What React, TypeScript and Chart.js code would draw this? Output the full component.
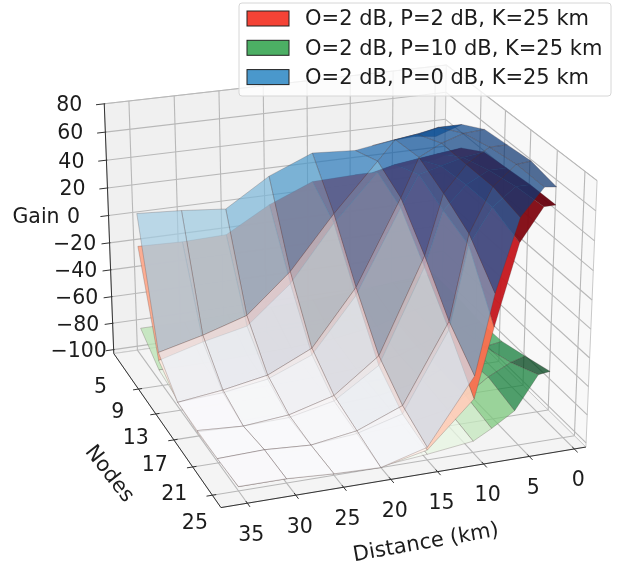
import React, { useEffect, useRef } from "react";
import { Chart, registerables } from "chart.js";

Chart.register(...registerables);

const distances = [1, 3, 5.5, 8, 10, 15, 20, 25, 30, 35];
const rimDistances = [0.5, 0.3, 0.6, 1, 1.4, 1.7];
const nodes = [0, 4.2, 8.4, 12.6, 16.8, 21];
const distanceTicks = [0, 5, 10, 15, 20, 25, 30, 35];
const nodeTickLabels = [5, 9, 13, 17, 21, 25];
const gainTicks = [-100, -80, -60, -40, -20, 0, 20, 40, 60, 80];

const gainP2 = [
  [15, 14, 12, 11, 11, 10, -3, -21, -22, -21],
  [38, 36, 34, 32, 28, -5, -45, -72, -79, -88],
  [50, 48, 44, 40, 18, -41, -80, -93, -98, -100],
  [54, 54, 46, 30, -8, -74, -95, -102, -103, -102],
  [58, 58, 46, 22, -35, -90, -99, -102, -100, -101],
  [60, 60, 38, -17, -65, -96, -103, -102, -100, -100],
];
const gainP10 = [
  [-72, -73, -74, -76, -77, -79, -80, -81, -82, -82],
  [-74, -75, -78, -82, -86, -91, -93, -94, -95, -95],
  [-74, -76, -80, -85, -90, -95, -97, -98, -98, -98],
  [-70, -72, -76, -84, -90, -96, -98, -98, -99, -99],
  [-62, -65, -73, -84, -92, -98, -100, -100, -100, -100],
  [-54, -55, -78, -88, -95, -99, -102, -101, -100, -100],
];
const gainP0 = [
  [32, 34, 33, 31, 29, 31, 18, -2, 1, 3],
  [55, 55, 52, 50, 36, 2, -36, -64, -74, -82],
  [66, 65, 60, 52, 25, -35, -75, -90, -96, -100],
  [70, 70, 60, 42, 0, -67, -91, -100, -103, -101],
  [74, 73, 60, 30, -29, -84, -97, -102, -100, -101],
  [72, 73, 55, 6, -49, -94, -103, -102, -100, -100],
];

const legendLabels = ["O=2 dB, P=2 dB, K=25 km", "O=2 dB, P=10 dB, K=25 km", "O=2 dB, P=0 dB, K=25 km"];
const legendColors = ["#f44336", "#4caf64", "#4a98cc"];

const REDS = ["#fff5f0", "#fee0d2", "#fcbba1", "#fc9272", "#fb6a4a", "#ef3b2c", "#cb181d", "#a50f15", "#67000d"];
const GREENS = ["#f7fcf5", "#e5f5e0", "#c7e9c0", "#a1d99b", "#74c476", "#41ab5d", "#238b45", "#006d2c", "#00441b"];
const BLUES = ["#f7fbff", "#deebf7", "#c6dbef", "#9ecae1", "#6baed6", "#4292c6", "#2171b5", "#08519c", "#08306b"];

const D_MIN = -1.3, D_MAX = 37.7, N_MIN = -1, N_MAX = 22.7, Z_MIN = -103, Z_MAX = 80;
const ELEV = (23 * Math.PI) / 180, AZIM = (70 * Math.PI) / 180, CAM = 8;
const BX = 1.143, BY = 1.143, BZ = 0.875;
const nv = [Math.cos(ELEV) * Math.cos(AZIM), Math.cos(ELEV) * Math.sin(AZIM), Math.sin(ELEV)];
const uv = [-Math.sin(AZIM), Math.cos(AZIM), 0];
const vv = [-Math.sin(ELEV) * Math.cos(AZIM), -Math.sin(ELEV) * Math.sin(AZIM), Math.cos(ELEV)];
const dot = (a: number[], b: number[]) => a[0] * b[0] + a[1] * b[1] + a[2] * b[2];
const world = (d: number, n: number, z: number) => [
  ((d - D_MIN) / (D_MAX - D_MIN) - 0.5) * BX,
  ((n - N_MIN) / (N_MAX - N_MIN) - 0.5) * BY,
  ((z - Z_MIN) / (Z_MAX - Z_MIN) - 0.5) * BZ,
];
const project = (d: number, n: number, z: number) => {
  const q = world(d, n, z);
  const w = CAM - dot(q, nv);
  return { x: dot(q, uv) / w, y: dot(q, vv) / w };
};
const depth = (d: number, n: number, z: number) => CAM - dot(world(d, n, z), nv);

const hex = (h: string) => [1, 3, 5].map((i) => parseInt(h.slice(i, i + 2), 16));
const cmap = (pal: string[], t: number, alpha: number) => {
  const p = Math.max(0, Math.min(1, t)) * (pal.length - 1);
  const i = Math.min(pal.length - 2, Math.floor(p));
  const a = hex(pal[i]), b = hex(pal[i + 1]), f = p - i;
  const c = a.map((v, k) => Math.round(v + (b[k] - v) * f));
  return `rgba(${c[0]},${c[1]},${c[2]},${alpha})`;
};

type Pt = { x: number; y: number };
const poly = (pts: Pt[], fill: string, stroke: string, width: number) => ({
  data: [...pts, pts[0]],
  showLine: true,
  fill: "shape",
  backgroundColor: fill,
  borderColor: stroke,
  borderWidth: width,
  pointRadius: 0,
  tension: 0,
});
const seg = (a: Pt, b: Pt, color: string, width: number) => ({
  data: [a, b],
  showLine: true,
  fill: false,
  borderColor: color,
  borderWidth: width,
  pointRadius: 0,
  tension: 0,
});

const distanceAt = (r: number, c: number) => (c === 0 ? rimDistances[r] : distances[c]);

const surface = (z: number[][], pal: string[], alpha: number) => {
  const quads: { avg: number; far: number; pts: Pt[] }[] = [];
  for (let r = 0; r < nodes.length - 1; r++) {
    for (let c = 0; c < distances.length - 1; c++) {
      const corners: [number, number, number][] = [
        [distanceAt(r, c), nodes[r], z[r][c]],
        [distanceAt(r, c + 1), nodes[r], z[r][c + 1]],
        [distanceAt(r + 1, c + 1), nodes[r + 1], z[r + 1][c + 1]],
        [distanceAt(r + 1, c), nodes[r + 1], z[r + 1][c]],
      ];
      quads.push({
        avg: corners.reduce((s, p) => s + p[2], 0) / 4,
        far: corners.reduce((s, p) => s + depth(p[0], p[1], p[2]), 0) / 4,
        pts: corners.map((p) => project(p[0], p[1], p[2])),
      });
    }
  }
  const lo = Math.min(...quads.map((q) => q.avg));
  const hi = Math.max(...quads.map((q) => q.avg));
  return quads
    .sort((a, b) => b.far - a.far)
    .map((q) => poly(q.pts, cmap(pal, (q.avg - lo) / (hi - lo), alpha), "rgba(70,50,50,0.3)", 0.8));
};

const buildDatasets = () => {
  const sets: any[] = [];
  const GRID = "#b8b8b8";
  const EDGE = "#c9c9c9";
  const AXIS = "#333333";
  sets.push(
    poly(
      [project(D_MAX, N_MIN, Z_MIN), project(D_MIN, N_MIN, Z_MIN), project(D_MIN, N_MIN, Z_MAX), project(D_MAX, N_MIN, Z_MAX)],
      "#f0f0f0", EDGE, 1
    ),
    poly(
      [project(D_MIN, N_MIN, Z_MIN), project(D_MIN, N_MAX, Z_MIN), project(D_MIN, N_MAX, Z_MAX), project(D_MIN, N_MIN, Z_MAX)],
      "#f8f8f8", EDGE, 1
    ),
    poly(
      [project(D_MAX, N_MIN, Z_MIN), project(D_MAX, N_MAX, Z_MIN), project(D_MIN, N_MAX, Z_MIN), project(D_MIN, N_MIN, Z_MIN)],
      "#f4f4f4", EDGE, 1
    )
  );
  distanceTicks.forEach((d) => {
    sets.push(seg(project(d, N_MAX, Z_MIN), project(d, N_MIN, Z_MIN), GRID, 1.1));
    sets.push(seg(project(d, N_MIN, Z_MIN), project(d, N_MIN, Z_MAX), GRID, 1.1));
  });
  nodeTickLabels.filter((n) => n <= N_MAX).forEach((n) => {
    sets.push(seg(project(D_MAX, n, Z_MIN), project(D_MIN, n, Z_MIN), GRID, 1.1));
    sets.push(seg(project(D_MIN, n, Z_MIN), project(D_MIN, n, Z_MAX), GRID, 1.1));
  });
  gainTicks.forEach((z) => {
    sets.push(seg(project(D_MAX, N_MIN, z), project(D_MIN, N_MIN, z), GRID, 1.1));
    sets.push(seg(project(D_MIN, N_MIN, z), project(D_MIN, N_MAX, z), GRID, 1.1));
  });
  sets.push(seg(project(D_MAX, N_MAX, Z_MIN), project(D_MIN, N_MAX, Z_MIN), AXIS, 1));
  sets.push(seg(project(D_MAX, N_MIN, Z_MIN), project(D_MAX, N_MAX, Z_MIN), AXIS, 1));
  sets.push(seg(project(D_MAX, N_MIN, Z_MIN), project(D_MAX, N_MIN, Z_MAX), AXIS, 1));
  distanceTicks.forEach((d) => sets.push(seg(project(d, N_MAX - 0.3, Z_MIN), project(d, N_MAX + 0.5, Z_MIN), AXIS, 1)));
  nodeTickLabels.filter((n) => n <= N_MAX).forEach((n) =>
    sets.push(seg(project(D_MAX - 0.4, n, Z_MIN), project(D_MAX + 0.6, n, Z_MIN), AXIS, 1))
  );
  gainTicks.forEach((z) => sets.push(seg(project(D_MAX - 0.1, N_MIN, z), project(D_MAX + 0.9, N_MIN, z), AXIS, 1)));
  sets.push(...surface(gainP10, GREENS, 0.75));
  sets.push(...surface(gainP2, REDS, 0.95));
  sets.push(...surface(gainP0, BLUES, 0.7));
  return sets.reverse();
};

const textPlugin = {
  id: "textPlugin",
  afterDraw(chart: any) {
    const { ctx } = chart;
    const px = (p: Pt) => ({ x: chart.scales.x.getPixelForValue(p.x), y: chart.scales.y.getPixelForValue(p.y) });
    const FONT = "20.5px 'DejaVu Sans'";
    ctx.save();
    ctx.fillStyle = "#1c1c1c";
    ctx.font = FONT;
    ctx.textAlign = "center";
    ctx.textBaseline = "middle";
    gainTicks.forEach((z) => {
      const p = px(project(D_MAX, N_MIN, z));
      ctx.fillText(String(z).replace("-", "\u2212"), p.x - 35, p.y + 2);
    });
    nodeTickLabels.forEach((n) => {
      const p = px(project(D_MAX, n, Z_MIN));
      ctx.fillText(String(n), p.x - 38, p.y - 1);
    });
    distanceTicks.forEach((d) => {
      const p = px(project(d, N_MAX, Z_MIN));
      ctx.fillText(String(d), p.x + 4, p.y + 32);
    });
    ctx.fillText("Gain", 36, 218);
    const rotated = (text: string, x: number, y: number, deg: number) => {
      ctx.save();
      ctx.font = "21px 'DejaVu Sans'";
      ctx.translate(x, y);
      ctx.rotate((deg * Math.PI) / 180);
      ctx.fillText(text, 0, 0);
      ctx.restore();
    };
    rotated("Nodes", 109, 474, 52);
    rotated("Distance (km)", 426, 543, -10);
    ctx.beginPath();
    ctx.roundRect(239, 3, 372, 93, 3);
    ctx.fillStyle = "rgba(255,255,255,0.8)";
    ctx.fill();
    ctx.strokeStyle = "#d6d6d6";
    ctx.lineWidth = 1;
    ctx.stroke();
    ctx.textAlign = "left";
    legendLabels.forEach((label, i) => {
      const y = 19 + i * 29.3;
      ctx.fillStyle = legendColors[i];
      ctx.strokeStyle = "#222222";
      ctx.fillRect(247, y - 8, 42, 15);
      ctx.strokeRect(247, y - 8, 42, 15);
      ctx.fillStyle = "#1c1c1c";
      ctx.font = "21px 'DejaVu Sans'";
      ctx.fillText(label, 305, y + 1);
    });
    ctx.restore();
  },
};

export default function App() {
  const ref = useRef<HTMLCanvasElement>(null);
  useEffect(() => {
    const chart = new Chart(ref.current!, {
      type: "scatter",
      data: { datasets: buildDatasets() },
      options: {
        animation: false,
        responsive: false,
        devicePixelRatio: 1,
        layout: { padding: 0 },
        scales: {
          x: { type: "linear", display: false, min: -0.1296, max: 0.11 },
          y: { type: "linear", display: false, min: -0.1155, max: 0.1064 },
        },
        plugins: { legend: { display: false }, tooltip: { enabled: false } },
      },
      plugins: [textPlugin],
    } as any);
    return () => chart.destroy();
  }, []);
  return <canvas ref={ref} width={630} height={568} style={{ position: "absolute", left: 0, top: 0, background: "#fff" }} />;
}
